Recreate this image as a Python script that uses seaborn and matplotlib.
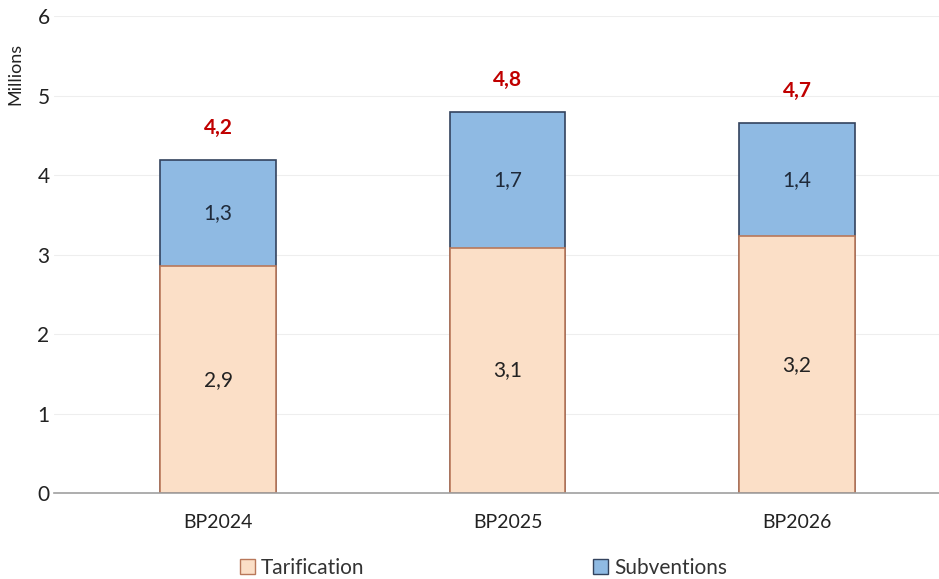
import numpy as np
import pandas as pd
import matplotlib.pyplot as plt
import seaborn as sns
from matplotlib.patches import Patch

sns.set_style("white")
plt.rcParams['font.family'] = ['Lato', 'DejaVu Sans']

# data (millions)
years = ["BP2024", "BP2025", "BP2026"]
tarification = [2.86, 3.09, 3.23]
subventions = [1.33, 1.70, 1.43]

df = pd.DataFrame({"annee": years, "Tarification": tarification, "Subventions": subventions})
df["Total"] = df["Tarification"] + df["Subventions"]

peach = "#FBDFC7"
peach_edge = "#B9785A"
blue = "#8FBAE3"
blue_edge = "#33435E"

fig, ax = plt.subplots(figsize=(9.39, 5.79), dpi=100)
fig.subplots_adjust(left=0.058, right=1.0, top=0.972, bottom=0.148)

# stacked: total drawn first (blue), tarification over it
sns.barplot(data=df, x="annee", y="Total", color=blue, edgecolor=blue_edge,
            linewidth=1.2, width=0.4, saturation=1, ax=ax)
sns.barplot(data=df, x="annee", y="Tarification", color=peach, edgecolor=peach_edge,
            linewidth=1.2, width=0.4, saturation=1, ax=ax)

fmt = lambda v: f"{v:.1f}".replace(".", ",")
for i, row in df.iterrows():
    ax.text(i, row["Tarification"] / 2, fmt(row["Tarification"]), ha="center", va="center",
            fontsize=15, color="#222222")
    ax.text(i, row["Tarification"] + row["Subventions"] / 2, fmt(row["Subventions"]),
            ha="center", va="center", fontsize=15, color="#1F2A3A")
    ax.text(i, row["Total"] + 0.28, fmt(row["Total"]), ha="center", va="bottom",
            fontsize=15, color="#C00000", fontweight="bold")

ax.set_ylim(0, 6)
ax.set_xlim(-0.565, 2.49)
ax.set_yticks(range(0, 7))
ax.yaxis.grid(True, color="#EEEEEE", linewidth=0.8)
ax.set_axisbelow(True)
for s in ["top", "right", "left"]:
    ax.spines[s].set_visible(False)
ax.spines["bottom"].set_color("#A0A0A0")
ax.spines["bottom"].set_linewidth(1.2)
ax.tick_params(axis="both", length=0, labelsize=15, colors="#222222")
ax.tick_params(axis="x", labelsize=14, pad=15)
ax.set_xlabel("")
ax.set_ylabel("Millions", fontsize=13, color="#222222")
ax.yaxis.set_label_coords(-0.035, 0.88)

handles = [Patch(facecolor=peach, edgecolor=peach_edge, label="Tarification"),
           Patch(facecolor=blue, edgecolor=blue_edge, label="Subventions")]
fig.legend(handles=handles, loc="lower center", ncol=2, frameon=False, fontsize=15,
           bbox_to_anchor=(0.515, -0.03), columnspacing=11, handlelength=0.7,
           handleheight=0.7, handletextpad=0.3, labelcolor="#333333")

fig.savefig("out.png", dpi=100)
